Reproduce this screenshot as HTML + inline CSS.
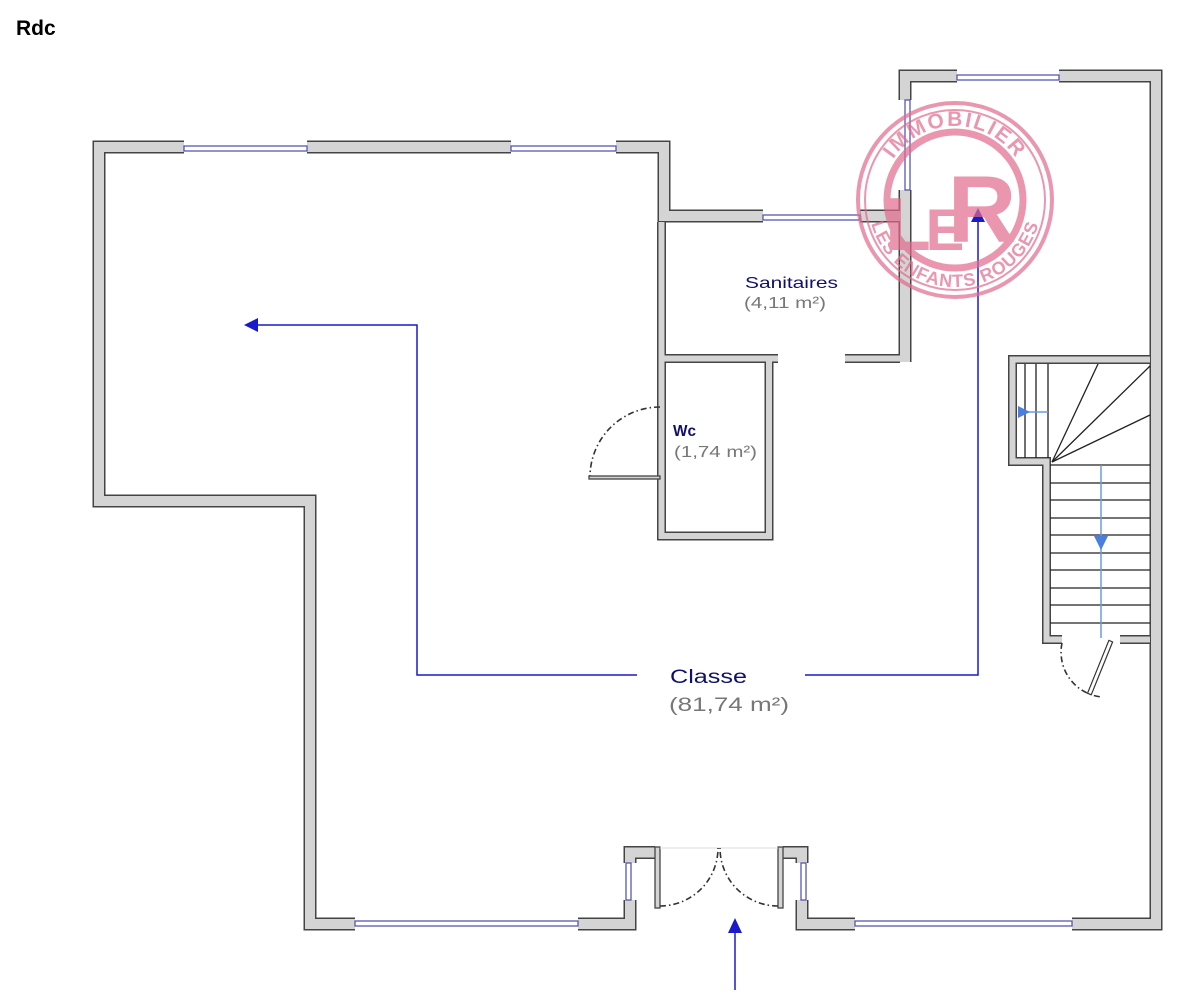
<!DOCTYPE html>
<html><head><meta charset="utf-8"><style>
html,body{margin:0;padding:0;background:#fff;}
svg{display:block;font-family:"Liberation Sans",sans-serif;}
</style></head><body>
<svg width="1194" height="1008" viewBox="0 0 1194 1008" xmlns="http://www.w3.org/2000/svg">
<rect width="1194" height="1008" fill="#fff"/>
<text x="16" y="35" font-size="21" font-weight="bold" fill="#000">Rdc</text>

<defs>
<path id="thick" d="M184,147 H99 V501 H310 V924 H355 M578,924 H630 V900 M630,863 V852.5 H655
M307,147 H511 M616,147 H664 V216 H763 M860,216 H905 M905,190 V362
M905,100 V76 H957 M1059,76 H1156 V924 H1072 M855,924 H802 V900 M802,863 V852.5 H783"/>
<path id="thin" d="M661.5,222 V536 H769 V358.5 H661.5 M769,358.5 H778 M845,358.5 H900
M1150,359.5 H1012.5 V461.5 H1046.5 V639.5 H1062 M1120,639.5 H1150"/>
</defs>
<g fill="none" stroke-linecap="butt" stroke-linejoin="miter">
<use href="#thick" stroke="#444" stroke-width="13"/>
<use href="#thick" stroke="#d4d4d4" stroke-width="10"/>
<use href="#thin" stroke="#444" stroke-width="9"/>
<use href="#thin" stroke="#d4d4d4" stroke-width="6"/>
</g>
<g fill="#d4d4d4" stroke="#444" stroke-width="1.3">
<rect x="655" y="847" width="5" height="61"/>
<rect x="778" y="847" width="5" height="61"/>
<rect x="589" y="476" width="71" height="3"/>
</g>

<!-- windows -->
<g fill="#fff" stroke="#4a4ab0" stroke-width="1.2">
<rect x="184" y="146" width="123" height="5"/>
<rect x="511" y="146" width="105" height="5"/>
<rect x="763" y="215" width="97" height="5"/>
<rect x="957" y="75" width="102" height="5"/>
<rect x="905" y="100" width="5" height="90"/>
<rect x="355" y="921" width="223" height="5"/>
<rect x="855" y="921" width="217" height="5"/>
<rect x="626" y="863" width="5" height="37"/>
<rect x="801" y="863" width="5" height="37"/>
</g>
<line x1="660" y1="848" x2="778" y2="848" stroke="#ddd" stroke-width="1"/>

<!-- door arcs -->
<g fill="none" stroke="#333" stroke-width="1.6" stroke-dasharray="6,3,1.5,3">
<path d="M660,407 A70,70 0 0 0 590,476"/>
<path d="M660,906 A58,58 0 0 0 718,848"/>
<path d="M778,906 A58,58 0 0 1 720,848"/>
<path d="M1062,643 A45,45 0 0 0 1102,697"/>
</g>
<rect x="1108" y="641" width="4" height="57" fill="#fff" stroke="#333" stroke-width="1.2" transform="rotate(22 1110 643)"/>

<!-- stairs -->
<g stroke="#222" stroke-width="1.3" fill="none">
<line x1="1025" y1="364" x2="1025" y2="458"/>
<line x1="1036" y1="364" x2="1036" y2="458"/>
<line x1="1048" y1="364" x2="1048" y2="458"/>
<line x1="1052" y1="462" x2="1098" y2="364"/>
<line x1="1052" y1="462" x2="1150" y2="366"/>
<line x1="1052" y1="462" x2="1150" y2="415"/>
<line x1="1050" y1="465" x2="1150" y2="465"/>
<line x1="1050" y1="483" x2="1150" y2="483"/>
<line x1="1050" y1="500" x2="1150" y2="500"/>
<line x1="1050" y1="518" x2="1150" y2="518"/>
<line x1="1050" y1="535" x2="1150" y2="535"/>
<line x1="1050" y1="553" x2="1150" y2="553"/>
<line x1="1050" y1="570" x2="1150" y2="570"/>
<line x1="1050" y1="588" x2="1150" y2="588"/>
<line x1="1050" y1="605" x2="1150" y2="605"/>
<line x1="1050" y1="623" x2="1150" y2="623"/>
</g>
<g stroke="#6a9be0" stroke-width="1.5" fill="#4a7fe0">
<line x1="1101" y1="465" x2="1101" y2="638"/>
<polygon points="1094,536 1108,536 1101,550" stroke="none"/>
<line x1="1020" y1="412" x2="1048" y2="412"/>
<polygon points="1018,406 1030,412 1018,418" stroke="none"/>
</g>

<!-- blue circulation lines -->
<g stroke="#1a1acc" stroke-width="1.5" fill="none">
<polyline points="255,325 417,325 417,675 637,675"/>
<polyline points="805,675 978,675 978,220"/>
<line x1="735" y1="990" x2="735" y2="930"/>
</g>
<g fill="#1a1acc">
<polygon points="244,325 258,318 258,332"/>
<polygon points="978,208 971,222 985,222"/>
<polygon points="735,918 728,933 742,933"/>
</g>

<!-- labels -->
<text x="745" y="288" font-size="16" fill="#10106a" textLength="93" lengthAdjust="spacingAndGlyphs">Sanitaires</text>
<text x="744" y="308" font-size="16" fill="#777" textLength="82" lengthAdjust="spacingAndGlyphs">(4,11 m²)</text>
<text x="670" y="683" font-size="19" fill="#10106a" textLength="77" lengthAdjust="spacingAndGlyphs">Classe</text>
<text x="669" y="711" font-size="19" fill="#777" textLength="120" lengthAdjust="spacingAndGlyphs">(81,74 m²)</text>
<text x="673" y="436" font-size="16" fill="#10106a" font-weight="bold" textLength="23" lengthAdjust="spacingAndGlyphs">Wc</text>
<text x="674" y="457" font-size="16" fill="#777" textLength="83" lengthAdjust="spacingAndGlyphs">(1,74 m²)</text>

<!-- logo -->
<g opacity="0.7" fill="none" stroke="#e06a8c">
<circle cx="955" cy="200" r="97" stroke-width="4"/>
<circle cx="955" cy="200" r="90" stroke-width="2"/>
<circle cx="955" cy="200" r="68" stroke-width="7"/>
<defs>
<path id="tp" d="M881,200 A74,74 0 0 1 1029,200"/>
<path id="bp" d="M868,200 A87,87 0 0 0 1042,200"/>
</defs>
<text font-size="21" font-weight="bold" fill="#e06a8c" stroke="none" letter-spacing="2"><textPath href="#tp" startOffset="50%" text-anchor="middle">IMMOBILIER</textPath></text>
<text font-size="18" font-weight="bold" fill="#e06a8c" stroke="none" letter-spacing="1"><textPath href="#bp" startOffset="50%" text-anchor="middle">LES ENFANTS ROUGES</textPath></text>
<text x="908" y="250" font-size="75" font-weight="bold" fill="#e06a8c" stroke="none" text-anchor="middle">L</text>
<text x="982" y="242" font-size="95" font-weight="bold" fill="#e06a8c" stroke="none" text-anchor="middle">R</text>
<text x="945" y="250" font-size="58" font-weight="bold" fill="#e06a8c" stroke="none" text-anchor="middle">E</text>
</g>
</svg>
</body></html>
